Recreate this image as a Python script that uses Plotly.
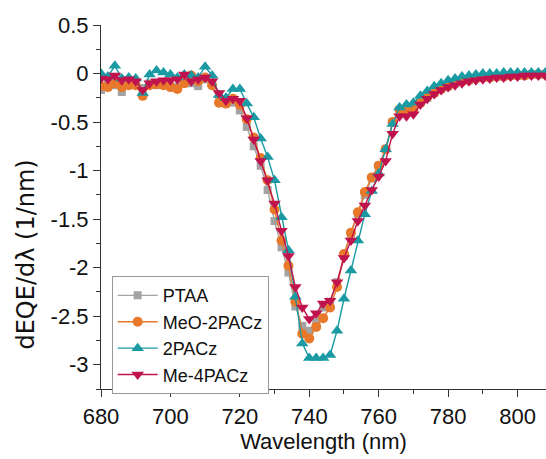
import plotly.graph_objects as go

wavelength = list(range(680, 810, 2))

ptaa = [-0.17, -0.10, -0.12, -0.19, -0.12, -0.10, -0.15, -0.10, -0.12, -0.10,
        -0.12, -0.14, -0.10, -0.10, -0.13, -0.06, -0.10, -0.22, -0.30, -0.30,
        -0.38, -0.55, -0.75, -0.95, -1.20, -1.52, -1.79, -2.05, -2.40, -2.60,
        -2.65, -2.55, -2.41, -2.35, -2.15, -1.88, -1.65, -1.45, -1.25, -1.08,
        -0.95, -0.78, -0.50, -0.38, -0.40, -0.38, -0.30, -0.25, -0.20, -0.16,
        -0.13, -0.10, -0.08, -0.07, -0.05, -0.04, -0.04, -0.03, -0.03, -0.02,
        -0.02, -0.02, -0.01, -0.01, -0.01]

meo_2pacz = [-0.13, -0.14, -0.10, -0.14, -0.12, -0.12, -0.23, -0.12, -0.11, -0.12,
             -0.14, -0.16, -0.10, -0.02, -0.08, -0.04, -0.12, -0.30, -0.31, -0.26,
             -0.32, -0.47, -0.66, -0.87, -1.10, -1.40, -1.72, -1.98, -2.35, -2.68,
             -2.73, -2.61, -2.52, -2.41, -2.20, -1.86, -1.64, -1.43, -1.22, -1.07,
             -0.95, -0.78, -0.50, -0.37, -0.38, -0.37, -0.30, -0.24, -0.20, -0.16,
             -0.13, -0.10, -0.08, -0.07, -0.05, -0.04, -0.04, -0.03, -0.03, -0.02,
             -0.02, -0.02, -0.01, -0.01, -0.01]

pacz2 = [0.00, -0.03, 0.08, -0.05, -0.04, -0.05, -0.20, -0.01, 0.03, 0.01,
         -0.01, -0.04, -0.01, -0.02, -0.04, 0.07, -0.02, -0.22, -0.25, -0.16,
         -0.16, -0.31, -0.45, -0.67, -0.86, -1.10, -1.48, -1.82, -2.30, -2.78,
         -2.93, -2.93, -2.93, -2.90, -2.65, -2.32, -2.03, -1.72, -1.45, -1.21,
         -1.03, -0.78, -0.52, -0.35, -0.32, -0.30, -0.23, -0.18, -0.13, -0.10,
         -0.07, -0.05, -0.03, -0.02, -0.01, 0.00, 0.00, 0.00, 0.01, 0.01,
         0.01, 0.01, 0.01, 0.01, 0.01]

me_4pacz = [-0.05, -0.06, -0.02, -0.07, -0.06, -0.08, -0.17, -0.10, -0.08, -0.07,
            -0.07, -0.06, -0.01, -0.08, -0.06, -0.04, -0.08, -0.20, -0.28, -0.26,
            -0.28, -0.46, -0.68, -0.90, -1.10, -1.34, -1.62, -1.88, -2.20, -2.41,
            -2.53, -2.47, -2.37, -2.34, -2.15, -1.90, -1.72, -1.52, -1.36, -1.20,
            -1.06, -0.90, -0.62, -0.44, -0.44, -0.42, -0.32, -0.26, -0.21, -0.17,
            -0.14, -0.12, -0.10, -0.08, -0.07, -0.06, -0.05, -0.04, -0.04, -0.03,
            -0.03, -0.02, -0.02, -0.02, -0.02]

names = ["PTAA", "MeO-2PACz", "2PACz", "Me-4PACz"]
series = [ptaa, meo_2pacz, pacz2, me_4pacz]
colors = ["#A3A3A3", "#E8782A", "#1A9AA3", "#C0124C"]
symbols = ["square", "circle", "triangle-up", "triangle-down"]
sizes = [8, 10, 11, 11]

fig = go.Figure()
for n, s, c, sym, sz in zip(names, series, colors, symbols, sizes):
    fig.add_trace(go.Scatter(
        x=wavelength, y=s, name=n, mode="lines+markers",
        line=dict(color=c, width=1.4),
        marker=dict(symbol=sym, size=sz, color=c, line=dict(width=0)),
    ))

font_family = "Liberation Sans, Arial, sans-serif"
axis_common = dict(
    showline=True, linecolor="#333333", linewidth=1.2,
    ticks="outside", ticklen=7, tickwidth=1.2, tickcolor="#333333",
    showgrid=False, zeroline=False, mirror=False,
    tickfont=dict(family=font_family, size=22, color="#111111"),
)

fig.update_layout(
    width=546, height=459,
    margin=dict(l=101, r=0, t=25, b=70),
    paper_bgcolor="white", plot_bgcolor="white",
    font=dict(family=font_family, color="#111111"),
    xaxis=dict(
        range=[680, 808.2], tickmode="array", tickvals=[680, 700, 720, 740, 760, 780, 800],
        minor=dict(ticks="outside", ticklen=4, tickwidth=1.2, tickcolor="#333333",
                   tickvals=[690, 710, 730, 750, 770, 790]),
        title=dict(text="Wavelength (nm)", font=dict(family=font_family, size=22), standoff=6),
        **axis_common,
    ),
    yaxis=dict(
        range=[-3.25, 0.5], tickmode="array",
        tickvals=[0.5, 0, -0.5, -1, -1.5, -2, -2.5, -3],
        ticktext=["0.5", "0", "-0.5", "-1", "-1.5", "-2", "-2.5", "-3"],
        minor=dict(ticks="outside", ticklen=4, tickwidth=1.2, tickcolor="#333333",
                   tickvals=[0.25, -0.25, -0.75, -1.25, -1.75, -2.25, -2.75, -3.25]),
        **axis_common,
    ),
    legend=dict(
        x=0.024, y=0.31, xanchor="left", yanchor="top",
        bgcolor="white", bordercolor="#999999", borderwidth=1,
        font=dict(family=font_family, size=18, color="#111111"),
        tracegroupgap=0, itemwidth=40,
    ),
    showlegend=True,
    annotations=[dict(
        text="dEQE/dλ (1/nm)", textangle=-90, showarrow=False,
        xref="paper", yref="paper", x=-0.168, y=0.37,
        xanchor="center", yanchor="middle",
        font=dict(family="DejaVu Sans, sans-serif", size=24, color="#111111"),
    )],
)

fig.write_html("out.html")
